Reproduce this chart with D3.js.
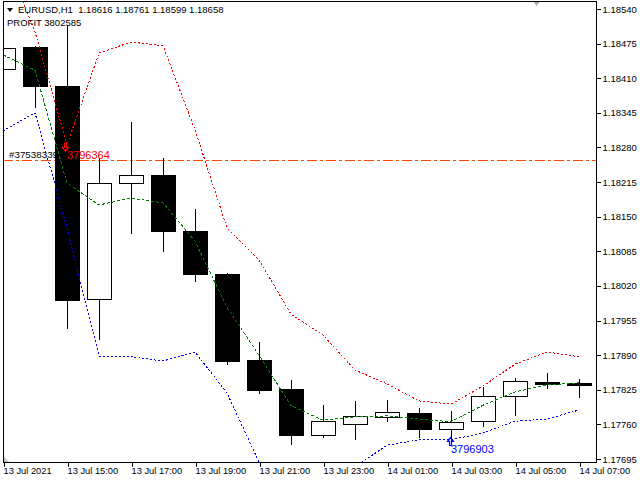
<!DOCTYPE html>
<html><head><meta charset="utf-8">
<script src="https://cdn.jsdelivr.net/npm/d3@7"></script>
<style>
body{margin:0;background:#fff;}
svg{display:block;font-family:"Liberation Sans",Arial,sans-serif;}
</style>
</head><body>
<svg id="chart" width="640" height="480"></svg>
<script>
// ---------- DATA ----------
const barTimes = ["2021-07-13T13:00","2021-07-13T14:00","2021-07-13T15:00","2021-07-13T16:00","2021-07-13T17:00",
  "2021-07-13T18:00","2021-07-13T19:00","2021-07-13T20:00","2021-07-13T21:00","2021-07-13T22:00","2021-07-13T23:00",
  "2021-07-14T00:00","2021-07-14T01:00","2021-07-14T02:00","2021-07-14T03:00","2021-07-14T04:00","2021-07-14T05:00",
  "2021-07-14T06:00","2021-07-14T07:00"];
const opens  = [1.18427,1.18469,1.18396,1.17995,1.18213,1.18228,1.18123,1.18042,1.17881,1.17826,1.17740,1.17761,1.17774,1.17781,1.17751,1.17766,1.17813,1.17840,1.17838];
const highs  = [1.18486,1.18471,1.18510,1.18260,1.18328,1.18260,1.18164,1.18044,1.17915,1.17843,1.17796,1.17804,1.17806,1.17791,1.17785,1.17830,1.17847,1.17856,1.17845];
const lows   = [1.18379,1.18356,1.17941,1.17920,1.18119,1.18086,1.18029,1.17873,1.17819,1.17723,1.17736,1.17733,1.17766,1.17736,1.17727,1.17757,1.17778,1.17828,1.17811];
const closes = [1.18467,1.18395,1.17994,1.18213,1.18228,1.18123,1.18042,1.17879,1.17825,1.17740,1.17766,1.17776,1.17783,1.17751,1.17765,1.17813,1.17841,1.17836,1.17834];

const bandMiddle = [1.18454,1.18425,1.18213,1.18172,1.18185,1.18176,1.18104,1.17980,1.17890,1.17795,1.17768,1.17774,1.17776,1.17770,1.17765,1.17796,1.17821,1.17834,1.17838];
const bandUpper  = [1.18645,1.18497,1.18285,1.18457,1.18478,1.18471,1.18313,1.18129,1.18069,1.17967,1.17928,1.17862,1.17836,1.17804,1.17798,1.17832,1.17873,1.17896,1.17887];
const bandLower  = [1.18311,1.18345,1.18129,1.17888,1.17887,1.17879,1.17896,1.17819,1.17689,1.17622,1.17609,1.17680,1.17721,1.17731,1.17731,1.17744,1.17766,1.17770,1.17787];

const priceTicks = [1.17695,1.17760,1.17825,1.17890,1.17955,1.18020,1.18085,1.18150,1.18215,1.18280,1.18345,1.18410,1.18475,1.18540];
const timeTicks  = ["2021-07-13T13:00","2021-07-13T15:00","2021-07-13T17:00","2021-07-13T19:00","2021-07-13T21:00",
  "2021-07-13T23:00","2021-07-14T01:00","2021-07-14T03:00","2021-07-14T05:00","2021-07-14T07:00"];
const timeTickLabels = ["13 Jul 2021","13 Jul 15:00","13 Jul 17:00","13 Jul 19:00","13 Jul 21:00",
  "13 Jul 23:00","14 Jul 01:00","14 Jul 03:00","14 Jul 05:00","14 Jul 07:00"];

const headerText = "EURUSD,H1  1.18616 1.18761 1.18599 1.18658";
const profitText = "PROFIT 3802585";
const orderPrice = 1.18256;
const orderText = "#375383399";
const sellMarkTime = "2021-07-13T15:00", sellMarkPrice = 1.18280, sellMarkText = "3796364";
const buyMarkTime  = "2021-07-14T03:00", buyMarkPrice  = 1.17728, buyMarkText  = "3796903";

// ---------- LAYOUT ----------
const plotL = 3, plotR = 596, plotT = 1, plotB = 462;
const parse = d3.utcParse("%Y-%m-%dT%H:%M");
const svg = d3.select("#chart");

const x = d3.scaleUtc().domain([parse(barTimes[0]), parse(barTimes[barTimes.length-1])]).range([3, 579]);
const y = d3.scaleLinear().domain([priceTicks[0], priceTicks[priceTicks.length-1]]).range([459, 9]);

const bars = barTimes.map((t,i)=>({t:parse(t),o:opens[i],h:highs[i],l:lows[i],c:closes[i],
  mid:bandMiddle[i],up:bandUpper[i],lo:bandLower[i]}));

svg.append("defs").append("clipPath").attr("id","plot")
  .append("rect").attr("x",plotL+1).attr("y",plotT+1).attr("width",plotR-plotL-1).attr("height",plotB-plotT-1);

const plot = svg.append("g").attr("clip-path","url(#plot)");

// order line (dash-dot)
plot.append("line")
  .attr("x1",plotL).attr("x2",plotR)
  .attr("y1",Math.round(y(orderPrice))+0.5).attr("y2",Math.round(y(orderPrice))+0.5)
  .attr("stroke","#FF4500").attr("stroke-width",1)
  .attr("stroke-dasharray","10,3,3,3");

plot.append("text").attr("x",9).attr("y",Math.round(y(orderPrice))-2)
  .attr("font-size","9.8px").attr("fill","#000").text(orderText);

// candles
const cw = 12;
const cg = plot.append("g").attr("shape-rendering","crispEdges");
bars.forEach(b=>{
  const cx = Math.round(x(b.t));
  cg.append("line").attr("x1",cx+0.5).attr("x2",cx+0.5)
    .attr("y1",Math.round(y(b.h))).attr("y2",Math.round(y(b.l))+1)
    .attr("stroke","#000").attr("stroke-width",1);
  const top = Math.round(y(Math.max(b.o,b.c)));
  const bot = Math.round(y(Math.min(b.o,b.c)));
  if (b.c >= b.o) {
    cg.append("rect").attr("x",cx-cw+0.5).attr("y",top+0.5)
      .attr("width",2*cw).attr("height",Math.max(bot-top,1))
      .attr("fill","#fff").attr("stroke","#000").attr("stroke-width",1);
  } else {
    cg.append("rect").attr("x",cx-cw).attr("y",top)
      .attr("width",2*cw+1).attr("height",Math.max(bot-top,1)+1)
      .attr("fill","#000");
  }
});

// bands
const lineGen = key => d3.line().x(d=>x(d.t)).y(d=>y(d[key]));
plot.append("path").datum(bars).attr("d",lineGen("up")).attr("fill","none").attr("shape-rendering","crispEdges")
  .attr("stroke","#FF0000").attr("stroke-width",1).attr("stroke-dasharray","2,2");
plot.append("path").datum(bars).attr("d",lineGen("lo")).attr("fill","none").attr("shape-rendering","crispEdges")
  .attr("stroke","#0000FF").attr("stroke-width",1).attr("stroke-dasharray","2,2");
plot.append("path").datum(bars).attr("d",lineGen("mid")).attr("fill","none").attr("shape-rendering","crispEdges")
  .attr("stroke","#008000").attr("stroke-width",1).attr("stroke-dasharray","3,2");

// trade marks
const sx = x(parse(sellMarkTime)) - 1.5, sy = y(sellMarkPrice);
plot.append("path")
  .attr("d",`M${sx-1},${sy-4} L${sx+1},${sy-4} L${sx+1},${sy} L${sx+3},${sy} L${sx},${sy+4} L${sx-3},${sy} L${sx-1},${sy} Z`)
  .attr("fill","none").attr("stroke","#FF0000").attr("stroke-width",1.2);
plot.append("text").attr("x",x(parse(sellMarkTime))).attr("y",Math.round(y(orderPrice))-1)
  .attr("font-size","11px").attr("fill","#FF0000").text(sellMarkText);

const bx = x(parse(buyMarkTime)) - 0.5, by = y(buyMarkPrice);
plot.append("path")
  .attr("d",`M${bx},${by-4} L${bx+3},${by} L${bx+1},${by} L${bx+1},${by+4} L${bx-1},${by+4} L${bx-1},${by} L${bx-3},${by} Z`)
  .attr("fill","none").attr("stroke","#0000FF").attr("stroke-width",1.2);
plot.append("text").attr("x",x(parse(buyMarkTime))).attr("y",y(buyMarkPrice)+12)
  .attr("font-size","11px").attr("fill","#0000FF").text(buyMarkText);

// header
svg.append("path").attr("d","M7,8 L13,8 L10,12 Z").attr("fill","#000");
svg.append("text").attr("x",18).attr("y",12.5).attr("font-size","9.5px").attr("fill","#000")
  .attr("xml:space","preserve").style("white-space","pre").text(headerText);
svg.append("text").attr("x",7).attr("y",26).attr("font-size","9.5px").attr("fill","#000").text(profitText);

// shift markers
svg.append("path").attr("d","M533,1 L540,1 L536.5,6 Z").attr("fill","#A8A8A8");
svg.append("path").attr("d","M3,455 L9,462 L3,462 Z").attr("fill","#C8C8C8");

// frame
const frame = svg.append("g").attr("shape-rendering","crispEdges").attr("stroke","#000").attr("stroke-width",1);
frame.append("line").attr("x1",plotL+0.5).attr("x2",plotL+0.5).attr("y1",plotT).attr("y2",plotB+1);
frame.append("line").attr("x1",plotL).attr("x2",plotR+1).attr("y1",plotT+0.5).attr("y2",plotT+0.5);

// axes
const yAxis = d3.axisRight(y).tickValues(priceTicks).tickFormat(d3.format(".5f"))
  .tickSize(4).tickSizeOuter(0).tickPadding(2);
const gy = svg.append("g").attr("transform",`translate(${plotR+0.5},0)`).call(yAxis);
gy.select(".domain").remove();
gy.append("line").attr("x1",0).attr("x2",0).attr("y1",plotT).attr("y2",plotB+1).attr("stroke","#000");
gy.selectAll("text").attr("font-size","9.5px").attr("font-family","Liberation Sans, Arial, sans-serif").attr("fill","#000");

const tickDates = timeTicks.map(parse);
const xAxis = d3.axisBottom(x).tickValues(tickDates)
  .tickFormat((d,i)=>timeTickLabels[i]).tickSize(4).tickSizeOuter(0).tickPadding(1);
const gx = svg.append("g").attr("transform",`translate(0,${plotB+0.5})`).call(xAxis);
gx.select(".domain").remove();
gx.append("line").attr("x1",plotL).attr("x2",plotR+1).attr("y1",0).attr("y2",0).attr("stroke","#000");
gx.selectAll(".tick line").attr("transform","translate(0.5,0)");
gx.selectAll("text").attr("text-anchor","start").attr("x",0)
  .attr("font-size","9.3px").attr("font-family","Liberation Sans, Arial, sans-serif").attr("fill","#000");
svg.selectAll(".tick line").attr("stroke","#000").attr("shape-rendering","crispEdges");
</script>
</body></html>
